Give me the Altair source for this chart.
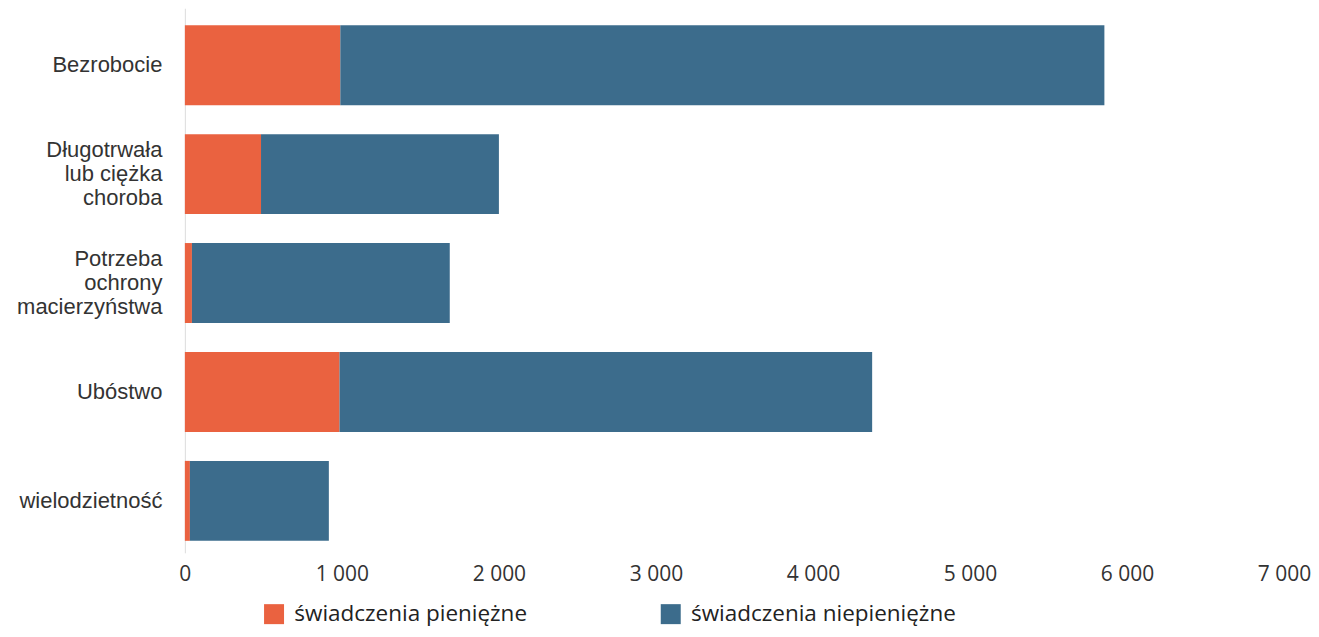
import altair as alt
import pandas as pd

categories = ["Bezrobocie", "Długotrwała|lub ciężka|choroba", "Potrzeba|ochrony|macierzyństwa", "Ubóstwo", "wielodzietność"]
series_names = ["świadczenia pieniężne", "świadczenia niepieniężne"]
pieniezne = [990, 485, 45, 985, 32]
niepieniezne = [4866, 1515, 1642, 3392, 885]
colors = ["#EA6240", "#3C6C8C"]

rows = []
for c, a, b in zip(categories, pieniezne, niepieniezne):
    rows.append({"kategoria": c, "seria": series_names[0], "wartosc": a, "kolejnosc": 0})
    rows.append({"kategoria": c, "seria": series_names[1], "wartosc": b, "kolejnosc": 1})
df = pd.DataFrame(rows)

chart = alt.Chart(df).mark_bar().encode(
    y=alt.Y("kategoria:N", sort=categories, title=None,
            scale=alt.Scale(paddingInner=0.266, paddingOuter=0.133, align=0.586),
            axis=alt.Axis(labelExpr="split(datum.label, '|')", labelFont="Liberation Sans",
                          labelFontSize=22, labelColor="#333333", labelLineHeight=24,
                          labelOffset=alt.condition("indexof(datum.value, '|') >= 0",
                                                    alt.value(-24), alt.value(0)),
                          ticks=False, labelPadding=23, minExtent=177, maxExtent=177,
                          domainColor="#dddddd", domainWidth=1, grid=False)),
    x=alt.X("wartosc:Q", stack="zero", title=None,
            scale=alt.Scale(domain=[0, 7000], nice=False),
            axis=alt.Axis(values=[0, 1000, 2000, 3000, 4000, 5000, 6000, 7000],
                          labelExpr="replace(format(datum.value, ',d'), ',', ' ')",
                          labelFont="Open Sans", labelFontSize=21, labelColor="#333333",
                          ticks=False, domain=False, grid=False, labelPadding=11,
                          labelFlush=False)),
    color=alt.Color("seria:N", scale=alt.Scale(domain=series_names, range=colors),
                    legend=alt.Legend(title=None, orient="none", legendX=78, legendY=595,
                                      direction="horizontal", columns=2, columnPadding=132,
                                      symbolType="square", symbolSize=400, symbolOpacity=1,
                                      symbolStrokeWidth=0,
                                      labelFont="Open Sans", labelFontSize=22.5,
                                      labelColor="#222222", labelOffset=9, labelLimit=400)),
    order=alt.Order("kolejnosc:Q", sort="ascending"),
).properties(width=1100, height=545,
             padding={"top": 0, "left": 0, "right": 0, "bottom": 3}).configure_view(stroke=None)

chart.save("out.html", embed_options={"renderer": "svg", "actions": False})
